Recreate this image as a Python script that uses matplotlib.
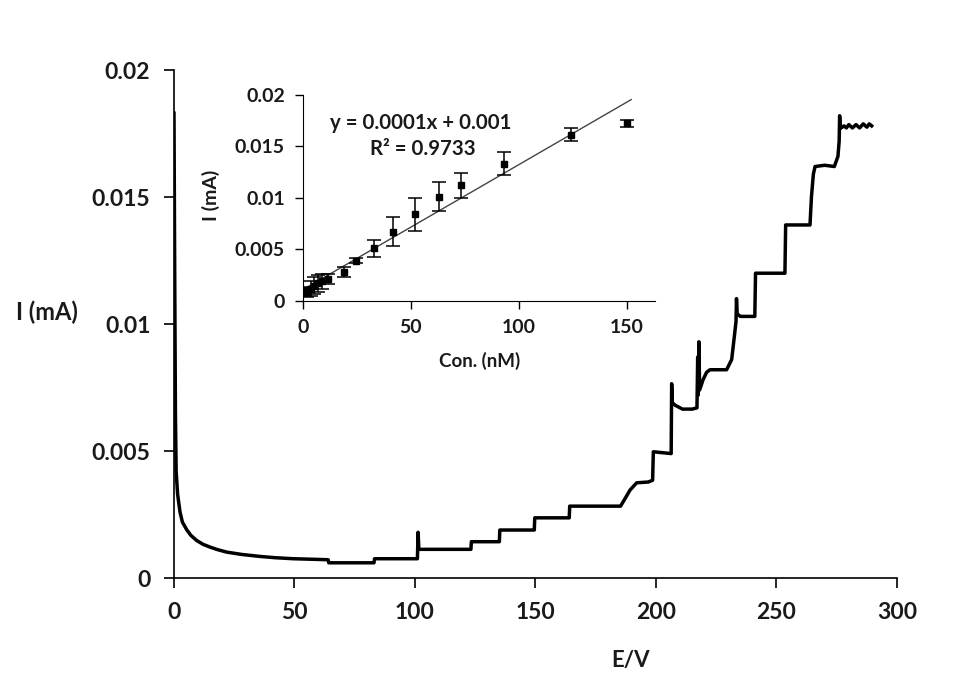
import matplotlib.pyplot as plt
import numpy as np

plt.rcParams['font.family'] = ['Lato', 'DejaVu Sans']
plt.rcParams['font.weight'] = 'bold'

# main amperometric trace (E/V, I mA)
trace_x = [0, 0.3, 0.6, 0.9, 1.5, 2.5, 3.5, 5.3, 7, 9.4, 12, 14.9, 18, 21.9, 28,
           35.7, 42, 49.5, 57, 64, 64.2, 83, 83.2, 101, 101.3, 101.6, 123.2,
           123.4, 135, 135.2, 149.5, 149.7, 164, 164.2, 185.3, 187, 189.2, 192,
           196.8, 198.6, 198.9, 206.3, 206.5, 206.8, 208, 211, 215, 217, 217.3,
           217.5, 217.8, 218.1, 219.5, 221, 222.4, 229.3, 231.4, 232.5, 233.2,
           233.4, 233.7, 235, 241, 241.3, 253.5, 253.8, 263.9, 264.5, 265.3,
           266, 270, 274, 275.5, 276, 276.2, 276.5, 278, 279, 280, 281.5, 283,
           284.5, 286, 287.5, 288.5, 289.5]
trace_y = [0.0183, 0.0120, 0.0065, 0.0042, 0.0033, 0.0026, 0.0022, 0.0019,
           0.00168, 0.00148, 0.00133, 0.00122, 0.00112, 0.00102, 0.00093,
           0.00085, 0.0008, 0.00076, 0.00074, 0.00072, 0.0006, 0.0006, 0.00076,
           0.00076, 0.0018, 0.00113, 0.00113, 0.00143, 0.00143, 0.00189,
           0.00189, 0.00237, 0.00237, 0.00283, 0.00283, 0.0031, 0.00346,
           0.00375, 0.00378, 0.00385, 0.00497, 0.0049, 0.00765, 0.0069, 0.0068,
           0.00665, 0.00665, 0.0067, 0.0087, 0.0072, 0.0093, 0.0074, 0.0078,
           0.0081, 0.0082, 0.0082, 0.0086, 0.0095, 0.0101, 0.0110, 0.0104,
           0.0103, 0.0103, 0.0120, 0.0120, 0.0139, 0.0139, 0.0150, 0.0159,
           0.0162, 0.01625, 0.0162, 0.0166, 0.0172, 0.0182, 0.0177, 0.0178,
           0.01772, 0.01785, 0.01772, 0.01785, 0.01772, 0.01788, 0.01775,
           0.01788, 0.0178]

# calibration inset (Con. nM, I mA, error)
conc = [1, 2, 3.5, 5, 7, 9, 11.5, 19, 24.5, 33, 41.5, 52, 63, 73, 93, 124, 150]
cur = [0.0009, 0.0009, 0.0012, 0.0015, 0.0017, 0.0019, 0.0021, 0.0028, 0.0039,
       0.0051, 0.0067, 0.0084, 0.0101, 0.0112, 0.0133, 0.0161, 0.0172]
cur_err = [0.0004, 0.0005, 0.0007, 0.0008, 0.0008, 0.0007, 0.0005, 0.0005,
           0.00025, 0.0008, 0.0014, 0.0016, 0.0014, 0.0012, 0.0011, 0.00065,
           0.00035]

main_xticks = [0, 50, 100, 150, 200, 250, 300]
main_yticks = [0, 0.005, 0.01, 0.015, 0.02]
ytick_labels = ['0', '0.005', '0.01', '0.015', '0.02']
inset_xticks = [0, 50, 100, 150]

txt = '#1a1a1a'

fig = plt.figure(figsize=(9.57, 6.79), dpi=100)
ax = fig.add_axes([0.1818, 0.1487, 0.7555, 0.7482])
ax.plot(trace_x, trace_y, color='black', lw=2.5, solid_joinstyle='round')
ax.set_xlim(0, 300)
ax.set_ylim(0, 0.02)
ax.set_xticks(main_xticks)
ax.set_yticks(main_yticks)
ax.set_yticklabels(ytick_labels)
for s in ['top', 'right']:
    ax.spines[s].set_visible(False)
for s in ['left', 'bottom']:
    ax.spines[s].set_linewidth(1.2)
ax.tick_params(direction='out', length=7, width=1.2, labelsize=16.5,
               labelcolor=txt, pad=10)
ax.set_xlabel('E/V', fontsize=16, fontweight='bold', color=txt)
ax.xaxis.set_label_coords(0.632, -0.142)
ax.set_ylabel('I (mA)', fontsize=17, fontweight='bold', color=txt, rotation=0)
ax.yaxis.set_label_coords(-0.176, 0.5)

# inset
ins = fig.add_axes([0.3166, 0.5567, 0.3678, 0.3041])
ins.errorbar(conc, cur, yerr=cur_err, fmt='s', color='black', ms=4.5,
             ecolor='black', elinewidth=1.1, capsize=5, capthick=1.1)
k, b = np.polyfit(conc, cur, 1)
xs = np.array([0, 152])
ins.plot(xs, k * xs + b, color='#444444', lw=1.0, zorder=1)
ins.set_xlim(0, 163)
ins.set_ylim(0, 0.02)
ins.set_xticks(inset_xticks)
ins.set_yticks(main_yticks)
ins.set_yticklabels(ytick_labels)
for s in ['top', 'right']:
    ins.spines[s].set_visible(False)
ins.tick_params(direction='out', length=6, width=1.0, labelsize=14,
                labelcolor=txt, pad=7)
ins.set_xlabel('Con. (nM)', fontsize=13.5, fontweight='bold', color=txt)
ins.xaxis.set_label_coords(0.503, -0.247)
ins.set_ylabel('I (mA)', fontsize=14, fontweight='bold', color=txt)
ins.yaxis.set_label_coords(-0.235, 0.513)
ins.text(0.335, 0.862, 'y = 0.0001x + 0.001', transform=ins.transAxes,
         ha='center', va='center', fontsize=14.7, fontweight='bold', color=txt)
ins.text(0.34, 0.736, 'R² = 0.9733', transform=ins.transAxes,
         ha='center', va='center', fontsize=14.7, fontweight='bold', color=txt)

fig.savefig('out.png', dpi=100)
